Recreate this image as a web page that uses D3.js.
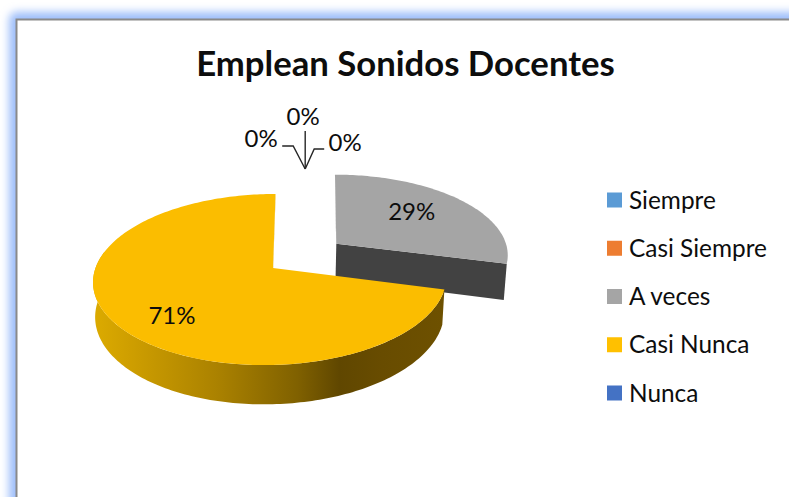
<!DOCTYPE html>
<html lang="es">
<head>
<meta charset="utf-8">
<title>Emplean Sonidos Docentes</title>
<script src="https://cdn.jsdelivr.net/npm/d3@7"></script>
<style>
  html, body { margin: 0; padding: 0; background: #fff; }
  svg { display: block; }
  text { font-family: Lato, "Open Sans", sans-serif; fill: #0d0d0d; }
</style>
</head>
<body>
<svg id="chart" width="789" height="497"></svg>
<script>
// Survey answers, in percent
const categories = ["Siempre", "Casi Siempre", "A veces", "Casi Nunca", "Nunca"];
const percentages = [0, 0, 29, 71, 0];
const sliceColors = ["#5b9bd5", "#ed7d31", "#a5a5a5", "#ffc000", "#4472c4"];
const chartTitle = "Emplean Sonidos Docentes";

const svg = d3.select("#chart");
const defs = svg.append("defs");

// Soft blue glow around the white chart panel
defs.append("filter").attr("id", "glow")
  .attr("x", "-5%").attr("y", "-5%").attr("width", "110%").attr("height", "110%")
  .append("feGaussianBlur").attr("stdDeviation", 4.2);
svg.append("rect").attr("x", 9).attr("y", 12).attr("width", 860).attr("height", 560).attr("rx", 8)
  .attr("fill", "#9dbefa").attr("filter", "url(#glow)");
svg.append("rect").attr("x", 16.5).attr("y", 19.5).attr("width", 840).attr("height", 540)
  .attr("fill", "#fff").attr("stroke", "#8a8a8a").attr("stroke-width", 2);

// Perspective projection of the tilted pie: u runs right, v towards the viewer, z downwards
const rim = { cx: 270.5, cy: 268, ru: 175, rv: 84, skew: -5.7, persp: 0.1345, depth: 34, taper: 0.012 };
function project(u, v, z = 0) {
  const w = 1 - rim.persp * v;
  return [rim.cx + (rim.ru * (1 - rim.taper * z) * u + rim.skew * v) / w,
          rim.cy + (rim.rv * v + rim.depth * z) / w];
}

const arcs = d3.pie().value((d, i) => percentages[i]).sort(null)(categories);
const unit = a => [Math.sin(a), -Math.cos(a)];

// Grey slice is pulled out of the pie along its bisector
const pullOut = { "A veces": 0.46 };
const rimShift = { "A veces": [4, -1.5] };
const wallScale = { "A veces": 1.07 };
function slicePoint(d, angle, radius, z) {
  const [u, v] = unit(angle);
  const [mu, mv] = unit((d.startAngle + d.endAngle) / 2);
  const e = pullOut[d.data] || 0;
  const s = rimShift[d.data] || [0, 0];
  const p = project(u * radius + mu * e, v * radius + mv * e, z * (wallScale[d.data] || 1));
  return [p[0] + s[0], p[1] + s[1]];
}
function rimPoints(d, z, from = d.startAngle, to = d.endAngle) {
  const steps = Math.max(2, Math.ceil((to - from) / 0.02));
  return d3.range(steps + 1).map(i => slicePoint(d, from + (to - from) * i / steps, 1, z));
}
// The hub sits a little off the ellipse centre on the rendered pie
const hubShift = { "A veces": -1, "Casi Nunca": 2.5 };
function hub(d, z) {
  const p = slicePoint(d, d.startAngle, 0, z);
  return [p[0] + hubShift[d.data], p[1]];
}
const line = d3.line();

const shown = arcs.filter(d => d.value > 0);
const grey = shown.find(d => d.data === "A veces");
const gold = shown.find(d => d.data === "Casi Nunca");

// Lit-to-shaded ramp along the outer wall of the gold slice
const wallGradient = defs.append("linearGradient").attr("id", "goldWall")
  .attr("gradientUnits", "userSpaceOnUse").attr("x1", 93).attr("x2", 445).attr("y1", 0).attr("y2", 0);
[[0, "#dcab00"], [0.1, "#cf9f00"], [0.35, "#ab8200"], [0.58, "#806100"], [0.7, "#604700"], [0.82, "#684c00"], [1, "#6e5100"]]
  .forEach(([o, c]) => wallGradient.append("stop").attr("offset", o).attr("stop-color", c));

const pieLayer = svg.append("g");

// Grey slice: walls first, then top face
pieLayer.append("path")
  .attr("d", line([hub(grey, 0), hub(grey, 1), slicePoint(grey, grey.endAngle, 1, 1), slicePoint(grey, grey.endAngle, 1, 0)]) + "Z")
  .attr("fill", "#424242");
pieLayer.append("path")
  .attr("d", line([hub(grey, 0), slicePoint(grey, grey.startAngle, 1, 0), slicePoint(grey, grey.startAngle, 1, 0.03), hub(grey, 0.1)]) + "Z")
  .attr("fill", "#5a5a5a");
pieLayer.append("path")
  .attr("d", line([hub(grey, 0), ...rimPoints(grey, 0)]) + "Z")
  .attr("fill", sliceColors[categories.indexOf(grey.data)]);

// Gold slice: inner wall, outer wall, top face
pieLayer.append("path")
  .attr("d", line([hub(gold, 0), hub(gold, 0.12), slicePoint(gold, gold.endAngle, 1, 0.12), slicePoint(gold, gold.endAngle, 1, 0)]) + "Z")
  .attr("fill", "#b08600");
pieLayer.append("path")
  .attr("d", line([...rimPoints(gold, 0, gold.startAngle, 1.5 * Math.PI + 0.2),
                   ...rimPoints(gold, 1, gold.startAngle, 1.5 * Math.PI + 0.2).reverse()]) + "Z")
  .attr("fill", "url(#goldWall)");
pieLayer.append("path")
  .attr("d", line([hub(gold, 0), ...rimPoints(gold, 0)]) + "Z")
  .attr("fill", "#fbbd00");

// Value labels inside the visible slices
const labelFormat = v => `${v}%`;
const insideLabels = [
  { d: grey, radius: 0.55, nudge: [5, -7] },
  { d: gold, radius: 0.72, nudge: [10, 8] }
];
insideLabels.forEach(({ d, radius, nudge }) => {
  const mid = (d.startAngle + d.endAngle) / 2;
  const p = slicePoint(d, mid, radius, 0);
  svg.append("text").attr("x", p[0] + nudge[0]).attr("y", p[1] + nudge[1])
    .attr("dy", "0.35em").attr("text-anchor", "middle").attr("font-size", 24)
    .text(labelFormat(d.value));
});

// Zero-valued slices collapse to the top of the pie; their labels fan out on leader lines
const zeroArcs = arcs.filter(d => d.value === 0);
const anchor = project(0.19, -1.4);
const leaders = [
  { elbow: [[-12, -23], [-23, -23]], text: [-44, -30] },
  { elbow: [[0, -38]], text: [-2, -52] },
  { elbow: [[9, -20], [19, -20]], text: [40, -26] }
];
zeroArcs.forEach((d, i) => {
  const lead = leaders[i];
  const pts = [[0, 0], ...lead.elbow].map(o => [anchor[0] + o[0], anchor[1] + o[1]]);
  svg.append("path").attr("d", line(pts)).attr("fill", "none")
    .attr("stroke", "#262626").attr("stroke-width", 1.4);
  svg.append("text").attr("x", anchor[0] + lead.text[0]).attr("y", anchor[1] + lead.text[1])
    .attr("dy", "0.35em").attr("text-anchor", "middle").attr("font-size", 24)
    .text(labelFormat(d.value));
});

// Title
svg.append("text").attr("x", 405.5).attr("y", 64).attr("dy", "0.35em")
  .attr("text-anchor", "middle").attr("font-size", 34.7).attr("font-weight", 700)
  .text(chartTitle);

// Legend
const legendY = d3.scalePoint().domain(categories).range([200, 393]);
const legend = svg.append("g").selectAll("g").data(categories).join("g")
  .attr("transform", d => `translate(607,${legendY(d)})`);
legend.append("rect").attr("x", 0).attr("y", -7.5).attr("width", 15).attr("height", 15)
  .attr("fill", (d, i) => sliceColors[i]);
legend.append("text").attr("x", 22).attr("dy", "0.35em").attr("font-size", 24.4).text(d => d);
</script>
</body>
</html>
